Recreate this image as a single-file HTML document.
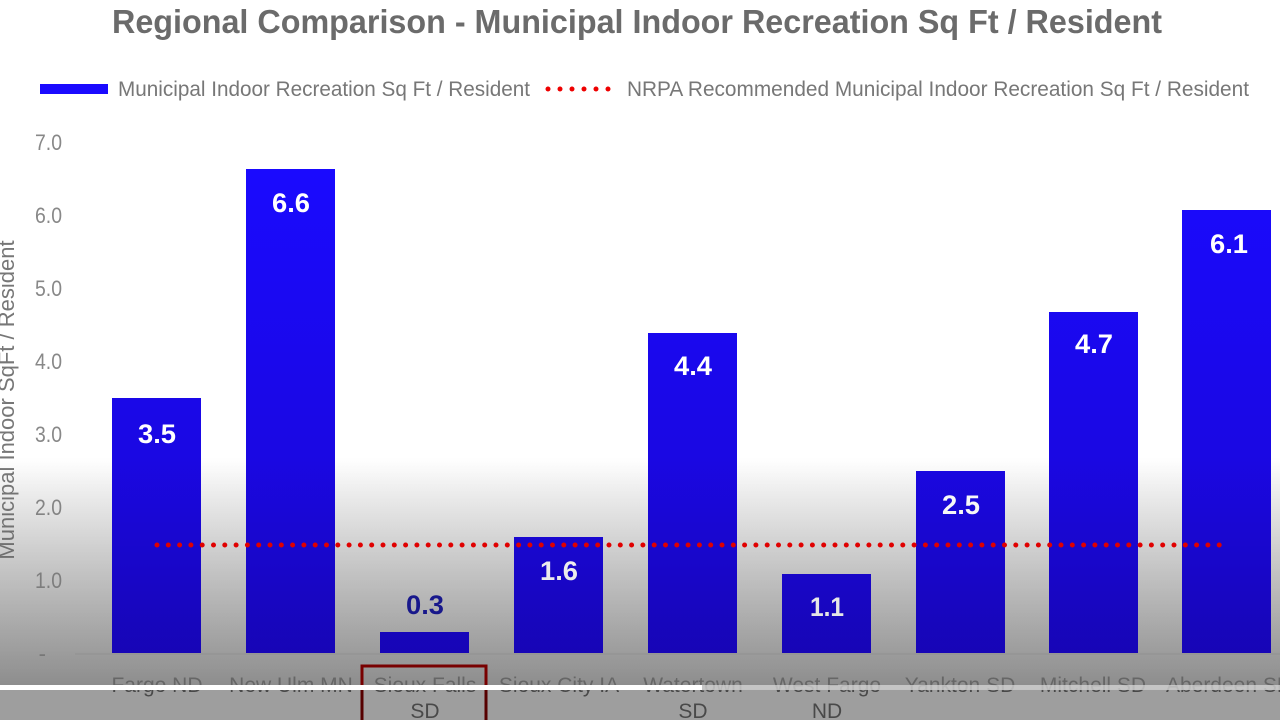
<!DOCTYPE html>
<html><head><meta charset="utf-8"><style>
html,body{margin:0;padding:0;width:1280px;height:720px;overflow:hidden;background:#fff}
svg{display:block}
text{font-family:"Liberation Sans Narrow","Liberation Sans",sans-serif}
</style></head><body>
<svg width="1280" height="720" viewBox="0 0 1280 720">
<defs>
<linearGradient id="bar" gradientUnits="userSpaceOnUse" x1="0" y1="160" x2="0" y2="653">
<stop offset="0" stop-color="#1a0aff"/><stop offset="1" stop-color="#1a06d0"/>
</linearGradient>
<linearGradient id="bg" x1="0" y1="0" x2="0" y2="1">
<stop offset="0" stop-color="#fff"/>
<stop offset="1" stop-color="#a4a4a4"/>
</linearGradient>
<linearGradient id="ov" x1="0" y1="0" x2="0" y2="1">
<stop offset="0" stop-color="#000" stop-opacity="0"/>
<stop offset="1" stop-color="#000" stop-opacity="0.15"/>
</linearGradient>
</defs>
<rect width="1280" height="720" fill="#fff"/>
<rect x="0" y="460" width="1280" height="230" fill="url(#bg)"/>
<text x="637" y="33" text-anchor="middle" font-size="33" font-weight="bold" fill="#6b6b6b" textLength="1050" lengthAdjust="spacingAndGlyphs">Regional Comparison - Municipal Indoor Recreation  Sq Ft / Resident</text>
<rect x="40" y="84" width="68" height="10" fill="#1a0aff"/>
<text x="118" y="96" font-size="21" fill="#777" textLength="412" lengthAdjust="spacingAndGlyphs">Municipal Indoor Recreation Sq Ft / Resident</text>
<g fill="#e00">
<circle cx="548" cy="89" r="2.5"/><circle cx="560" cy="89" r="2.5"/><circle cx="572" cy="89" r="2.5"/><circle cx="584" cy="89" r="2.5"/><circle cx="596" cy="89" r="2.5"/><circle cx="608" cy="89" r="2.5"/>
</g>
<text x="627" y="96" font-size="21" fill="#777" textLength="622" lengthAdjust="spacingAndGlyphs">NRPA Recommended Municipal Indoor Recreation Sq Ft / Resident</text>
<g font-size="22" fill="#888" text-anchor="end">
<text x="62" y="150" textLength="27" lengthAdjust="spacingAndGlyphs">7.0</text><text x="62" y="223" textLength="27" lengthAdjust="spacingAndGlyphs">6.0</text><text x="62" y="296" textLength="27" lengthAdjust="spacingAndGlyphs">5.0</text><text x="62" y="369" textLength="27" lengthAdjust="spacingAndGlyphs">4.0</text><text x="62" y="442" textLength="27" lengthAdjust="spacingAndGlyphs">3.0</text><text x="62" y="515" textLength="27" lengthAdjust="spacingAndGlyphs">2.0</text><text x="62" y="588" textLength="27" lengthAdjust="spacingAndGlyphs">1.0</text><text x="46" y="661">-</text>
</g>
<text transform="translate(14,400) rotate(-90)" font-size="22" fill="#777" text-anchor="middle">Municipal Indoor SqFt / Resident</text>
<line x1="75" y1="654" x2="1280" y2="654" stroke="#aaa" stroke-width="1.5"/>
<g fill="url(#bar)">
<rect x="112" y="398" width="89" height="255"/>
<rect x="246" y="169" width="89" height="484"/>
<rect x="380" y="632" width="89" height="21"/>
<rect x="514" y="537" width="89" height="116"/>
<rect x="648" y="333" width="89" height="320"/>
<rect x="782" y="574" width="89" height="79"/>
<rect x="916" y="471" width="89" height="182"/>
<rect x="1049" y="312" width="89" height="341"/>
<rect x="1182" y="210" width="89" height="443"/>
</g>
<g font-size="27" font-weight="bold" fill="#fff" text-anchor="middle">
<text x="157" y="443" textLength="38" lengthAdjust="spacingAndGlyphs">3.5</text><text x="291" y="212" textLength="38" lengthAdjust="spacingAndGlyphs">6.6</text>
<text x="425" y="614" fill="#1a1a9a" textLength="38" lengthAdjust="spacingAndGlyphs">0.3</text>
<text x="559" y="580" textLength="38" lengthAdjust="spacingAndGlyphs">1.6</text><text x="693" y="375" textLength="38" lengthAdjust="spacingAndGlyphs">4.4</text><text x="827" y="616" textLength="34" lengthAdjust="spacingAndGlyphs">1.1</text>
<text x="961" y="514" textLength="38" lengthAdjust="spacingAndGlyphs">2.5</text><text x="1094" y="353" textLength="38" lengthAdjust="spacingAndGlyphs">4.7</text><text x="1229" y="253" textLength="38" lengthAdjust="spacingAndGlyphs">6.1</text>
</g>
<line x1="157" y1="545" x2="1228" y2="545" stroke="#e00" stroke-width="5" stroke-linecap="round" stroke-dasharray="0 11.3"/>
<g font-size="21" fill="#777" text-anchor="middle">
<text x="157" y="692">Fargo ND</text><text x="291" y="692">New Ulm MN</text>
<text x="425" y="692">Sioux Falls</text><text x="425" y="718">SD</text>
<text x="559" y="692">Sioux City IA</text>
<text x="693" y="692">Watertown</text><text x="693" y="718">SD</text>
<text x="827" y="692">West Fargo</text><text x="827" y="718">ND</text>
<text x="960" y="692">Yankton SD</text><text x="1093" y="692">Mitchell SD</text><text x="1229" y="692">Aberdeen SD</text>
</g>
<rect x="362" y="666" width="124" height="60" fill="none" stroke="#8b0000" stroke-width="3"/>
<rect x="0" y="455" width="1280" height="235" fill="url(#ov)"/>
<rect x="0" y="690" width="1280" height="30" fill="#000" opacity="0.38"/>
<rect x="0" y="685" width="1280" height="5" fill="#ddd" opacity="0.7"/>
<rect x="0" y="685" width="702" height="5" fill="#fff"/>
</svg>
</body></html>
